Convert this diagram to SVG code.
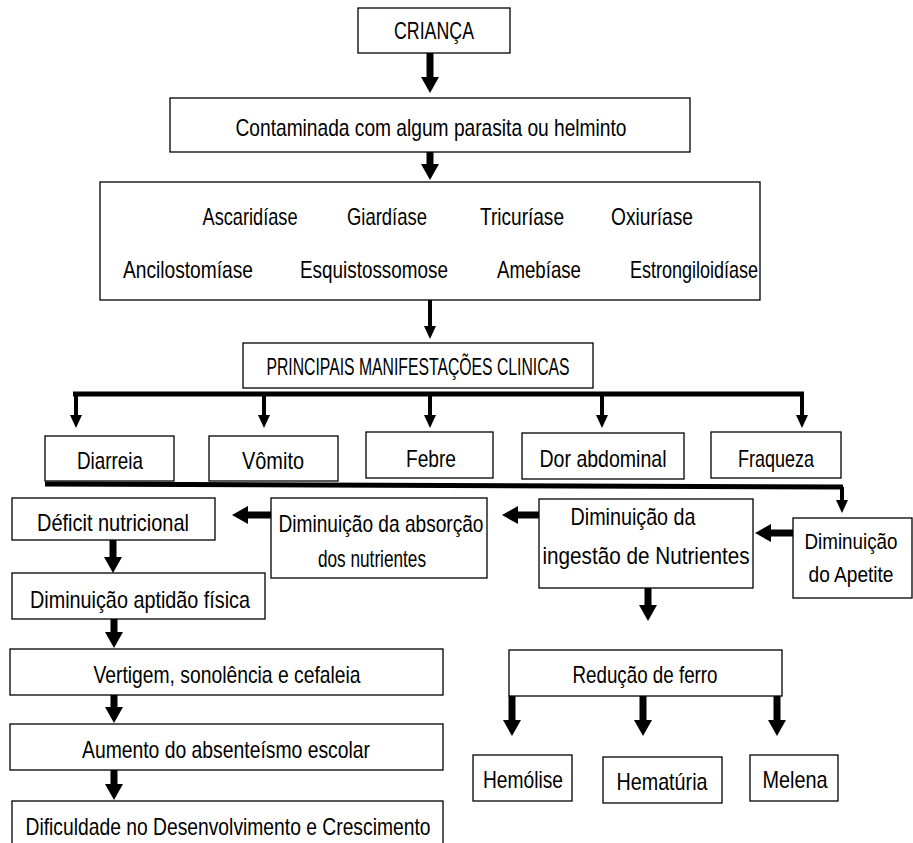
<svg xmlns="http://www.w3.org/2000/svg" width="913" height="843" viewBox="0 0 913 843">
<style>
.box{fill:#fff;stroke:#000;stroke-width:1.3}
text{font-family:"Liberation Sans",Arial,sans-serif;font-size:24px;fill:#000;text-anchor:middle}
.sm{font-size:22px}
.thick{stroke:#000;stroke-width:7;fill:none}
.thin{stroke:#000;stroke-width:4;fill:none}
.bar{stroke:#000;stroke-width:5;fill:none}
</style>
<defs>
<marker id="ah" markerUnits="userSpaceOnUse" markerWidth="16" markerHeight="18" viewBox="0 0 16 18" refX="0" refY="9" orient="auto"><path d="M0,0 L16,9 L0,18 z" fill="#000"/></marker>
<marker id="as" markerUnits="userSpaceOnUse" markerWidth="13" markerHeight="12" viewBox="0 0 13 12" refX="0" refY="6" orient="auto"><path d="M0,0 L13,6 L0,12 z" fill="#000"/></marker>
</defs>
<g id="connectors">
<line class="thick" x1="430" y1="53" x2="430" y2="77" marker-end="url(#ah)"/>
<line class="thick" x1="430" y1="152" x2="430" y2="164" marker-end="url(#ah)"/>
<line class="thin" x1="430" y1="300" x2="430" y2="326" marker-end="url(#as)"/>
<path class="bar" d="M73,394 H804"/>
<line class="thin" x1="76" y1="394" x2="76" y2="415" marker-end="url(#as)"/>
<line class="thin" x1="264" y1="394" x2="264" y2="415" marker-end="url(#as)"/>
<line class="thin" x1="430" y1="394" x2="430" y2="415" marker-end="url(#as)"/>
<line class="thin" x1="602" y1="394" x2="602" y2="415" marker-end="url(#as)"/>
<line class="thin" x1="802" y1="394" x2="802" y2="415" marker-end="url(#as)"/>
<path class="bar" d="M45,484 L843,487"/>
<line class="thin" x1="842" y1="487" x2="842" y2="500" marker-end="url(#as)"/>
<line class="thick" x1="793" y1="533" x2="771" y2="533" marker-end="url(#ah)"/>
<line class="thick" x1="539" y1="515" x2="518" y2="515" marker-end="url(#ah)"/>
<line class="thick" x1="271" y1="515" x2="248" y2="515" marker-end="url(#ah)"/>
<line class="thick" x1="113" y1="540" x2="113" y2="557" marker-end="url(#ah)"/>
<line class="thick" x1="114" y1="619" x2="114" y2="632" marker-end="url(#ah)"/>
<line class="thick" x1="114" y1="695" x2="114" y2="707" marker-end="url(#ah)"/>
<line class="thick" x1="114" y1="770" x2="114" y2="784" marker-end="url(#ah)"/>
<line class="thick" x1="648" y1="588" x2="648" y2="605" marker-end="url(#ah)"/>
<line class="thick" x1="512" y1="696" x2="512" y2="720" marker-end="url(#ah)"/>
<line class="thick" x1="643" y1="696" x2="643" y2="720" marker-end="url(#ah)"/>
<line class="thick" x1="777" y1="696" x2="777" y2="720" marker-end="url(#ah)"/>
</g>
<g id="crianca"><rect class="box" x="358" y="8" width="152" height="45"/><text x="434" y="39" textLength="80" lengthAdjust="spacingAndGlyphs">CRIANÇA</text></g>
<g id="contaminada"><rect class="box" x="170" y="98" width="520" height="54"/><text x="431" y="136" textLength="391" lengthAdjust="spacingAndGlyphs">Contaminada com algum parasita ou helminto</text></g>
<g id="parasitas"><rect class="box" x="100" y="182" width="660" height="118"/>
<text x="250" y="225" textLength="95" lengthAdjust="spacingAndGlyphs">Ascaridíase</text>
<text x="387" y="225" textLength="80" lengthAdjust="spacingAndGlyphs">Giardíase</text>
<text x="522" y="225" textLength="84" lengthAdjust="spacingAndGlyphs">Tricuríase</text>
<text x="652" y="225" textLength="82" lengthAdjust="spacingAndGlyphs">Oxiuríase</text>
<text x="188" y="278" textLength="130" lengthAdjust="spacingAndGlyphs">Ancilostomíase</text>
<text x="374" y="278" textLength="148" lengthAdjust="spacingAndGlyphs">Esquistossomose</text>
<text x="539" y="278" textLength="84" lengthAdjust="spacingAndGlyphs">Amebíase</text>
<text x="694" y="278" textLength="128" lengthAdjust="spacingAndGlyphs">Estrongiloidíase</text>
</g>
<g id="principais"><rect class="box" x="243" y="343" width="350" height="45"/><text x="418" y="375" textLength="303" lengthAdjust="spacingAndGlyphs">PRINCIPAIS MANIFESTAÇÕES CLINICAS</text></g>
<g id="diarreia"><rect class="box" x="45" y="436" width="129" height="45"/><text x="110" y="469" textLength="66" lengthAdjust="spacingAndGlyphs">Diarreia</text></g>
<g id="vomito"><rect class="box" x="209" y="436" width="129" height="45"/><text x="273" y="469" textLength="62" lengthAdjust="spacingAndGlyphs">Vômito</text></g>
<g id="febre"><rect class="box" x="366" y="432" width="127" height="46"/><text x="431" y="467" textLength="50" lengthAdjust="spacingAndGlyphs">Febre</text></g>
<g id="dor"><rect class="box" x="522" y="433" width="162" height="46"/><text x="603" y="467" textLength="127" lengthAdjust="spacingAndGlyphs">Dor abdominal</text></g>
<g id="fraqueza"><rect class="box" x="711" y="432" width="130" height="46"/><text x="776" y="467" textLength="76" lengthAdjust="spacingAndGlyphs">Fraqueza</text></g>
<g id="apetite"><rect class="box" x="793" y="518" width="119" height="80"/><text class="sm" x="851" y="549" textLength="93" lengthAdjust="spacingAndGlyphs">Diminuição</text><text class="sm" x="851" y="582" textLength="85" lengthAdjust="spacingAndGlyphs">do Apetite</text></g>
<g id="ingestao"><rect class="box" x="539" y="499" width="214" height="89"/><text x="633" y="525" textLength="125" lengthAdjust="spacingAndGlyphs">Diminuição da</text><text x="646" y="564" textLength="207" lengthAdjust="spacingAndGlyphs">ingestão de Nutrientes</text></g>
<g id="absorcao"><rect class="box" x="271" y="498" width="216" height="80"/><text x="381" y="532" textLength="205" lengthAdjust="spacingAndGlyphs">Diminuição da absorção</text><text x="372" y="567" textLength="108" lengthAdjust="spacingAndGlyphs">dos nutrientes</text></g>
<g id="deficit"><rect class="box" x="12" y="498" width="203" height="42"/><text x="113" y="531" textLength="152" lengthAdjust="spacingAndGlyphs">Déficit nutricional</text></g>
<g id="aptidao"><rect class="box" x="12" y="573" width="253" height="46"/><text x="140" y="608" textLength="220" lengthAdjust="spacingAndGlyphs">Diminuição aptidão física</text></g>
<g id="vertigem"><rect class="box" x="10" y="649" width="433" height="46"/><text x="227" y="683" textLength="267" lengthAdjust="spacingAndGlyphs">Vertigem, sonolência e cefaleia</text></g>
<g id="aumento"><rect class="box" x="10" y="724" width="433" height="46"/><text x="226" y="758" textLength="288" lengthAdjust="spacingAndGlyphs">Aumento do absenteísmo escolar</text></g>
<g id="dificuldade"><rect class="box" x="12" y="801" width="431" height="50"/><text x="228" y="835" textLength="405" lengthAdjust="spacingAndGlyphs">Dificuldade no Desenvolvimento e Crescimento</text></g>
<g id="reducao"><rect class="box" x="509" y="650" width="273" height="46"/><text x="645" y="683" textLength="145" lengthAdjust="spacingAndGlyphs">Redução de ferro</text></g>
<g id="hemolise"><rect class="box" x="473" y="755" width="99" height="46"/><text x="523" y="788" textLength="80" lengthAdjust="spacingAndGlyphs">Hemólise</text></g>
<g id="hematuria"><rect class="box" x="603" y="757" width="119" height="46"/><text x="662" y="790" textLength="91" lengthAdjust="spacingAndGlyphs">Hematúria</text></g>
<g id="melena"><rect class="box" x="750" y="755" width="88" height="46"/><text x="795" y="788" textLength="65" lengthAdjust="spacingAndGlyphs">Melena</text></g>
</svg>
